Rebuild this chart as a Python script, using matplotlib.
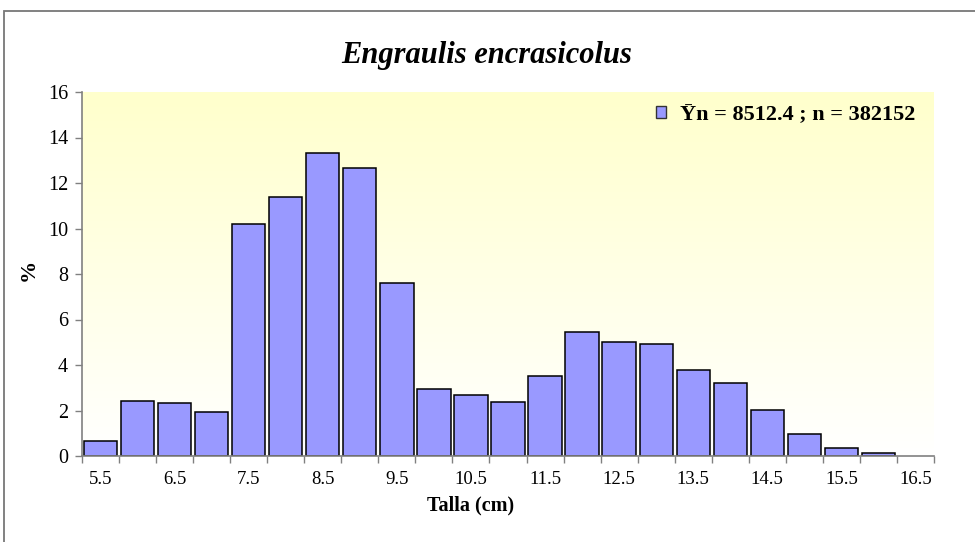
"""
Length-frequency histogram for Engraulis encrasicolus (Excel-style chart).
"""

import matplotlib
import matplotlib.pyplot as plt
import numpy as np
from matplotlib.patches import Patch, Rectangle

matplotlib.use("Agg")

plt.rcParams["font.family"] = ["Liberation Serif", "DejaVu Serif"]

# Length classes (cm) and percentage of catch in each one
talla = [5.5, 6.0, 6.5, 7.0, 7.5, 8.0, 8.5, 9.0, 9.5, 10.0, 10.5, 11.0,
         11.5, 12.0, 12.5, 13.0, 13.5, 14.0, 14.5, 15.0, 15.5, 16.0, 16.5]
porcentaje = [0.67, 2.42, 2.32, 1.92, 10.2, 11.4, 13.33, 12.64, 7.59, 2.93,
              2.67, 2.39, 3.53, 5.46, 5.01, 4.94, 3.78, 3.21, 2.04, 0.98,
              0.35, 0.15, 0.0]
tick_labels = ["5.5", "6.5", "7.5", "8.5", "9.5", "10.5", "11.5", "12.5",
               "13.5", "14.5", "15.5", "16.5"]
y_ticks = [0, 2, 4, 6, 8, 10, 12, 14, 16]

TITLE = "Engraulis encrasicolus"
LEGEND_TEXT = "\u0232n = 8512.4 ; n = 382152"

W, H = 975, 542
BAR_COLOR = "#9999FF"
AXIS_GREY = "#808080"


def main():
    fig = plt.figure(figsize=(W / 100, H / 100), dpi=100)
    ax = fig.add_axes([82 / W, 1 - 456 / H, (934 - 82) / W, (456 - 92) / H])

    n = len(talla)
    x = np.arange(n)

    # plot-area gradient: pale yellow at top fading to white at the bottom
    grad = np.linspace(0, 1, 256).reshape(-1, 1)
    top = np.array([1.0, 1.0, 0.80])
    bottom = np.array([1.0, 1.0, 1.0])
    rgb = top[None, None, :] * (1 - grad[:, :, None]) + bottom[None, None, :] * grad[:, :, None]
    ax.imshow(rgb, extent=[-0.5, n - 0.5, 0, 16], origin="upper", aspect="auto",
              zorder=0, interpolation="bilinear")

    vals = np.array(porcentaje)
    mask = vals > 0
    ax.bar(x[mask], vals[mask], width=0.9, color=BAR_COLOR, edgecolor="black",
           linewidth=1.1, zorder=2)

    ax.set_xlim(-0.5, n - 0.5)
    ax.set_ylim(0, 16)

    ax.set_xticks(x[::2])
    ax.set_xticklabels(tick_labels)
    ax.set_xticks(np.arange(-0.5, n, 1), minor=True)
    ax.tick_params(axis="x", which="major", length=0, pad=11, labelsize=13.5)
    ax.tick_params(axis="x", which="minor", length=5, color=AXIS_GREY, width=1)
    ax.set_yticks(y_ticks)
    ax.tick_params(axis="y", length=5, color=AXIS_GREY, width=1, labelsize=14.5, pad=5)

    for side in ("top", "right"):
        ax.spines[side].set_visible(False)
    for side in ("left", "bottom"):
        ax.spines[side].set_color(AXIS_GREY)
        ax.spines[side].set_linewidth(1.2)
        ax.spines[side].set_zorder(3)

    ax.set_xlabel("Talla (cm)", fontsize=14.5, fontweight="bold")
    ax.set_ylabel("%", fontsize=16, fontweight="bold")
    ax.xaxis.set_label_coords((471 - 82) / (934 - 82), -(495 - 456) / (456 - 92))
    ax.yaxis.set_label_coords(-(82 - 39) / (934 - 82), (456 - 270) / (456 - 92))

    fig.text(487 / W, 1 - 55 / H, TITLE, ha="center", va="center",
             fontsize=22, fontweight="bold", fontstyle="italic")

    handle = Patch(facecolor=BAR_COLOR, edgecolor="#333333", linewidth=1)
    ax.legend([handle], [LEGEND_TEXT], loc="upper right",
              bbox_to_anchor=(0.996, 1.008), frameon=False,
              prop={"weight": "bold", "size": 16},
              handlelength=0.45, handleheight=0.45, handletextpad=0.6,
              borderaxespad=0.3)

    # outer chart border (only left/top edges fall inside the canvas)
    fig.patches.append(Rectangle((4 / W, -0.1), 1.2, 1 - 11 / H + 0.1,
                                 transform=fig.transFigure, fill=False,
                                 edgecolor="#777777", linewidth=1.3))

    fig.savefig("out.png", dpi=100)
    plt.close(fig)


if __name__ == "__main__":
    main()
